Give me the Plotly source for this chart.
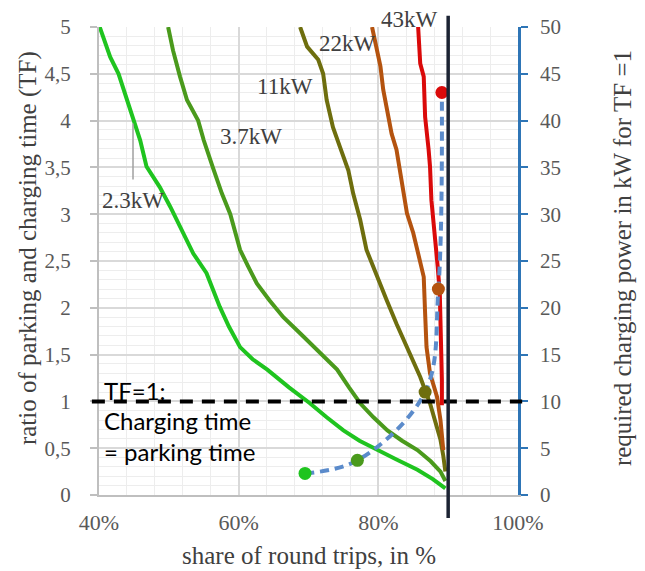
import plotly.graph_objects as go

# ---------------- data ----------------
tf_23 = [5.0, 4.68, 4.5, 4.22, 4.0, 3.79, 3.51, 3.29, 3.08, 2.80, 2.58, 2.37, 2.08, 2.01, 1.80, 1.58, 1.45, 1.34, 1.15, 0.98, 0.83, 0.69, 0.58, 0.48, 0.38, 0.27, 0.17, 0.07]
x_23 = [40.1, 41.6, 42.8, 44.0, 44.9, 45.9, 46.8, 48.7, 50.2, 52.1, 53.5, 55.4, 56.9, 57.3, 58.6, 60.2, 62.0, 64.1, 67.2, 70.2, 72.6, 75.0, 77.3, 79.8, 82.6, 85.6, 87.8, 89.6]

tf_37 = [5.0, 4.75, 4.47, 4.22, 4.0, 3.79, 3.5, 3.22, 3.0, 2.8, 2.62, 2.45, 2.26, 2.08, 1.90, 1.72, 1.55, 1.34, 1.15, 0.98, 0.83, 0.69, 0.58, 0.48, 0.36, 0.25, 0.15]
x_37 = [49.9, 50.6, 51.6, 52.6, 54.2, 55.0, 56.3, 57.6, 58.8, 59.5, 60.2, 61.3, 62.6, 64.4, 66.4, 68.9, 71.2, 74.1, 75.8, 77.4, 79.3, 81.3, 83.4, 85.6, 87.5, 88.9, 89.6]

tf_11 = [5.0, 4.79, 4.65, 4.5, 4.22, 3.93, 3.72, 3.47, 3.22, 2.94, 2.62, 2.33, 2.08, 1.83, 1.66, 1.44, 1.26, 0.98, 0.80, 0.59, 0.42, 0.25]
x_11 = [68.8, 69.8, 71.4, 72.1, 72.6, 73.5, 74.5, 75.7, 76.4, 77.4, 78.3, 79.8, 81.2, 82.6, 83.6, 85.0, 86.0, 87.4, 88.1, 88.9, 89.3, 89.6]

tf_22 = [5.0, 4.75, 4.58, 4.33, 4.11, 3.86, 3.69, 3.44, 3.22, 3.01, 2.80, 2.51, 2.33, 1.94, 1.58, 1.30, 1.05, 0.80, 0.48]
x_22 = [79.1, 79.8, 80.3, 80.7, 81.2, 81.9, 82.6, 83.1, 83.6, 84.1, 85.0, 86.0, 86.5, 86.7, 86.9, 87.4, 88.4, 88.9, 89.3]

tf_43 = [5.0, 4.61, 4.47, 4.04, 3.69, 3.51, 3.15, 2.80, 2.44, 2.16, 1.94, 1.58, 1.23, 0.96]
x_43 = [85.7, 86.0, 86.5, 86.7, 87.2, 87.4, 87.6, 88.1, 88.5, 88.8, 88.9, 89.0, 89.1, 89.1]

series_names = ["2.3kW", "3.7kW", "11kW", "22kW", "43kW"]
series_colors = ["#1FC41F", "#4A9A1C", "#6E6E0E", "#B4530F", "#DA0A0A"]

req_share = [69.5, 77.0, 86.7, 88.6, 89.1]   # share of round trips at TF = 1
req_kw = [2.3, 3.7, 11, 22, 43]              # required charging power

tf_line = 1.0      # TF = 1 reference
share_line = 90.0  # vertical reference

x_ticks = [40, 60, 80, 100]
x_tick_labels = ["40%", "60%", "80%", "100%"]

# ---------------- figure ----------------
fig = go.Figure()
curves = [(x_23, tf_23), (x_37, tf_37), (x_11, tf_11), (x_22, tf_22), (x_43, tf_43)]
for (xs, ys), name, col in zip(curves, series_names, series_colors):
    fig.add_trace(go.Scatter(x=xs, y=ys, mode="lines", name=name,
                             line=dict(color=col, width=4), showlegend=False))

fig.add_trace(go.Scatter(x=req_share, y=req_kw, yaxis="y2", mode="lines",
                         line=dict(color="#5B8BCB", width=4, dash="9px,6px", shape="spline", smoothing=1.0),
                         showlegend=False))
fig.add_trace(go.Scatter(x=req_share, y=req_kw, yaxis="y2", mode="markers",
                         marker=dict(color=series_colors, size=13), showlegend=False))

serif = "Liberation Serif"
fig.update_layout(
    width=645, height=571,
    margin=dict(l=99, r=127, t=27, b=76),
    paper_bgcolor="white", plot_bgcolor="white",
    separators=", ",
    font=dict(family=serif, color="#595959", size=21),
    xaxis=dict(range=[40, 100], tickmode="array", tickvals=x_ticks, ticktext=x_tick_labels,
               showgrid=True, gridcolor="#D9D9D9", gridwidth=1.5,
               minor=dict(dtick=4, tick0=40, showgrid=True, gridcolor="#EDEDED", gridwidth=1),
               showline=True, linecolor="#BFBFBF", linewidth=2, ticks="",
               ticklabelstandoff=7, zeroline=False,
               tickfont=dict(family=serif, size=22, color="#595959")),
    yaxis=dict(range=[0, 5], dtick=0.5, showgrid=True, gridcolor="#D9D9D9", gridwidth=1.5,
               minor=dict(dtick=0.1, showgrid=True, gridcolor="#EDEDED", gridwidth=1),
               showline=True, linecolor="#BFBFBF", linewidth=2, ticks="outside",
               ticklen=7, tickcolor="#BFBFBF", tickwidth=2, ticklabelstandoff=15,
               zeroline=False, tickfont=dict(family=serif, size=21, color="#595959")),
    yaxis2=dict(range=[0, 50], dtick=5, overlaying="y", side="right", showgrid=False,
                showline=True, linecolor="#2E75B6", linewidth=2.5, ticks="outside",
                ticklen=7, tickcolor="#2E75B6", tickwidth=2, ticklabelstandoff=8,
                zeroline=False, tickfont=dict(family=serif, size=21, color="#595959")),
)

# reference lines
fig.add_shape(type="line", xref="paper", yref="y", x0=-0.017, x1=1.01, y0=tf_line, y1=tf_line,
              line=dict(color="black", width=4, dash="13px,9px"))
fig.add_shape(type="line", xref="x", yref="paper", x0=share_line, x1=share_line, y0=-0.049, y1=1.024,
              line=dict(color="#1C2333", width=3.5))
# leader line for 2.3kW label
fig.add_shape(type="line", xref="x", yref="y", x0=44.87, x1=44.87, y0=3.37, y1=3.97,
              line=dict(color="#A0A0A0", width=1.5))

lbl_font = dict(family=serif, size=23, color="#404040")
# label positions in paper coordinates
label_pos = [(0.08, 0.630), (0.3627, 0.767), (0.4439, 0.872), (0.5926, 0.964), (0.7422, 1.017)]
for name, (lx, ly) in zip(series_names, label_pos):
    fig.add_annotation(x=lx, y=ly, xref="paper", yref="paper", text=name, showarrow=False,
                       font=lbl_font, xanchor="center", yanchor="middle")

sans = "Lato"
for txt, ty in [("TF=1:", 1.12), ("Charging time", 0.80), ("= parking time", 0.46)]:
    fig.add_annotation(x=40.43, y=ty, xref="x", yref="y", text=txt, showarrow=False,
                       font=dict(family=sans, size=24, color="black"), xanchor="left", yanchor="middle")

title_font = dict(family=serif, size=25, color="#404040")
fig.add_annotation(x=-0.169, y=0.528, xref="paper", yref="paper", textangle=-90, showarrow=False,
                   text="ratio of parking and charging time (TF)", font=title_font,
                   xanchor="center", yanchor="middle")
fig.add_annotation(x=1.248, y=0.506, xref="paper", yref="paper", textangle=-90, showarrow=False,
                   text="required charging power in kW for TF =1", font=title_font,
                   xanchor="center", yanchor="middle")
fig.add_annotation(x=0.5, y=-0.130, xref="paper", yref="paper", showarrow=False,
                   text="share of round trips, in %", font=title_font,
                   xanchor="center", yanchor="middle")

fig.write_html("out.html")
